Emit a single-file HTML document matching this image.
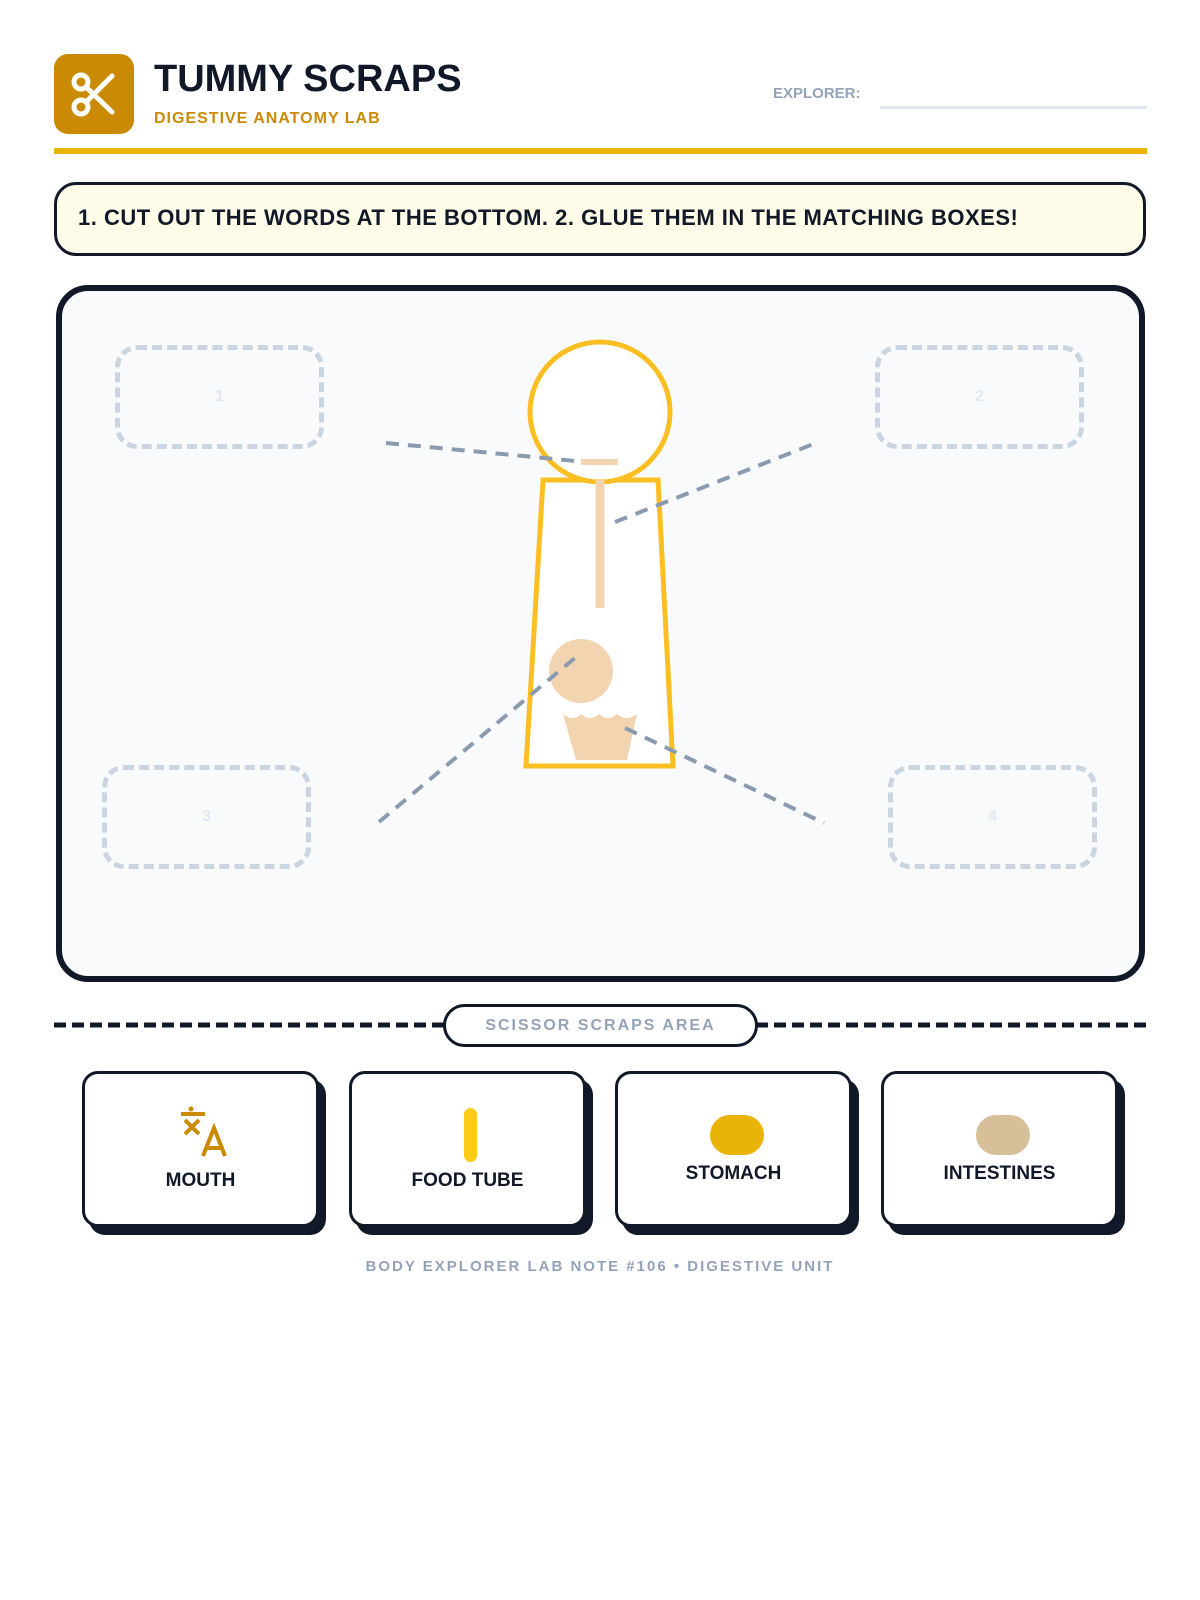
<!DOCTYPE html>
<html><head><meta charset="utf-8"><style>
body{margin:0;width:1200px;height:1600px;background:#fff;font-family:"Liberation Sans",sans-serif;position:relative;overflow:hidden}
.a{position:absolute}
.card{position:absolute;top:1071px;width:237px;height:156px;background:#fff;border:3px solid #111827;border-radius:16px;box-shadow:7px 8px 0 #111827;box-sizing:border-box;text-align:center}
.card span{position:absolute;left:0;right:0;font-weight:bold;font-size:19px;color:#111827}
.db{position:absolute;border:5px dashed #cbd5e1;border-radius:22px;box-sizing:border-box;color:#e2e8f0;font-weight:bold;font-size:16px;display:flex;align-items:center;justify-content:center}
</style></head><body>
<div class="a" style="left:54px;top:54px;width:80px;height:80px;background:#ca8a04;border-radius:14px">
<svg width="80" height="80" viewBox="0 0 80 80"><g stroke="#fff" stroke-width="5" fill="none" stroke-linecap="round"><circle cx="27" cy="28" r="7"/><circle cx="27" cy="53" r="7"/><line x1="32" y1="33" x2="58" y2="58"/><line x1="32" y1="48" x2="58" y2="22"/></g></svg></div>
<div class="a" style="left:154px;top:58px;font-size:38px;font-weight:bold;color:#111827">TUMMY SCRAPS</div>
<div class="a" style="left:154px;top:110px;font-size:16px;font-weight:bold;color:#ca8a04;letter-spacing:1px">DIGESTIVE ANATOMY LAB</div>
<div class="a" style="left:773px;top:85px;font-size:15px;font-weight:bold;color:#94a3b8">EXPLORER:</div>
<div class="a" style="left:880px;top:106px;width:267px;height:3px;background:#e2e8f0"></div>
<div class="a" style="left:54px;top:148px;width:1093px;height:6px;background:#eab308"></div>
<div class="a" style="left:54px;top:182px;width:1092px;height:74px;box-sizing:border-box;border:3px solid #111827;border-radius:22px;background:#fefce8"></div>
<div class="a" style="left:78px;top:205px;font-size:22px;font-weight:bold;color:#111827;letter-spacing:0.5px">1. CUT OUT THE WORDS AT THE BOTTOM. 2. GLUE THEM IN THE MATCHING BOXES!</div>
<div class="a" style="left:56px;top:285px;width:1089px;height:697px;box-sizing:border-box;border:6px solid #111827;border-radius:32px;background:#f8fafc"></div>
<div class="db" style="left:115px;top:345px;width:209px;height:104px">1</div>
<div class="db" style="left:875px;top:345px;width:209px;height:104px">2</div>
<div class="db" style="left:102px;top:765px;width:209px;height:104px">3</div>
<div class="db" style="left:888px;top:765px;width:209px;height:104px">4</div>
<svg class="a" style="left:0;top:0" width="1200" height="1000">
<polygon points="543,480 658,480 673,766 526,766" fill="#fff" stroke="#fbbf24" stroke-width="5"/>
<circle cx="600" cy="412" r="70" fill="#fff" stroke="#fbbf24" stroke-width="5"/>
<line x1="581" y1="462" x2="618" y2="462" stroke="#f3d4b0" stroke-width="6"/>
<line x1="600" y1="480" x2="600" y2="608" stroke="#f3d4b0" stroke-width="9"/>
<circle cx="581" cy="671" r="32" fill="#f3d4b0"/>
<path d="M563,714 q9,8 18,0 q9,8 18,0 q9,8 18,0 q9,8 20,0 L627,760 L576,760 Z" fill="#f3d4b0"/>
<g stroke="#8a9bb0" stroke-width="4" stroke-dasharray="13 9" fill="none">
<line x1="386" y1="443" x2="576" y2="461"/>
<line x1="615" y1="522" x2="816" y2="443"/>
<line x1="379" y1="822" x2="576" y2="657"/>
<line x1="625" y1="728" x2="824" y2="823"/>
</g></svg>
<svg class="a" style="left:0;top:1015px" width="1200" height="20"><line x1="54" y1="10" x2="1147" y2="10" stroke="#111827" stroke-width="5" stroke-dasharray="12 6"/></svg>
<div class="a" style="left:443px;top:1004px;width:315px;height:43px;box-sizing:border-box;border:3px solid #111827;border-radius:22px;background:#fff;text-align:center;line-height:37px;font-size:16px;font-weight:bold;color:#94a3b8;letter-spacing:2px">SCISSOR SCRAPS AREA</div>
<div class="card" style="left:82px"><svg class="a" style="left:92px;top:32px" width="54" height="54" viewBox="0 0 54 54"><g stroke="#ca8a04" stroke-width="4" fill="none"><line x1="4" y1="8" x2="28" y2="8"/><line x1="8" y1="14" x2="22" y2="28"/><line x1="22" y1="14" x2="8" y2="28"/><path d="M26 50 L37 22 L48 50 M30 42 H44"/></g><circle cx="14" cy="3" r="2.5" fill="#ca8a04"/></svg><span style="top:96px">MOUTH</span></div>
<div class="card" style="left:349px"><div class="a" style="left:112px;top:34px;width:13px;height:54px;border-radius:7px;background:#facc15"></div><span style="top:96px">FOOD TUBE</span></div>
<div class="card" style="left:615px"><div class="a" style="left:92px;top:41px;width:54px;height:40px;border-radius:20px;background:#eab308"></div><span style="top:89px">STOMACH</span></div>
<div class="card" style="left:881px"><div class="a" style="left:92px;top:41px;width:54px;height:40px;border-radius:20px;background:#d6bf99"></div><span style="top:89px">INTESTINES</span></div>
<div class="a" style="left:0;width:1200px;top:1258px;text-align:center;font-size:15px;font-weight:bold;color:#94a3b8;letter-spacing:2px">BODY EXPLORER LAB NOTE #106 • DIGESTIVE UNIT</div>
</body></html>
